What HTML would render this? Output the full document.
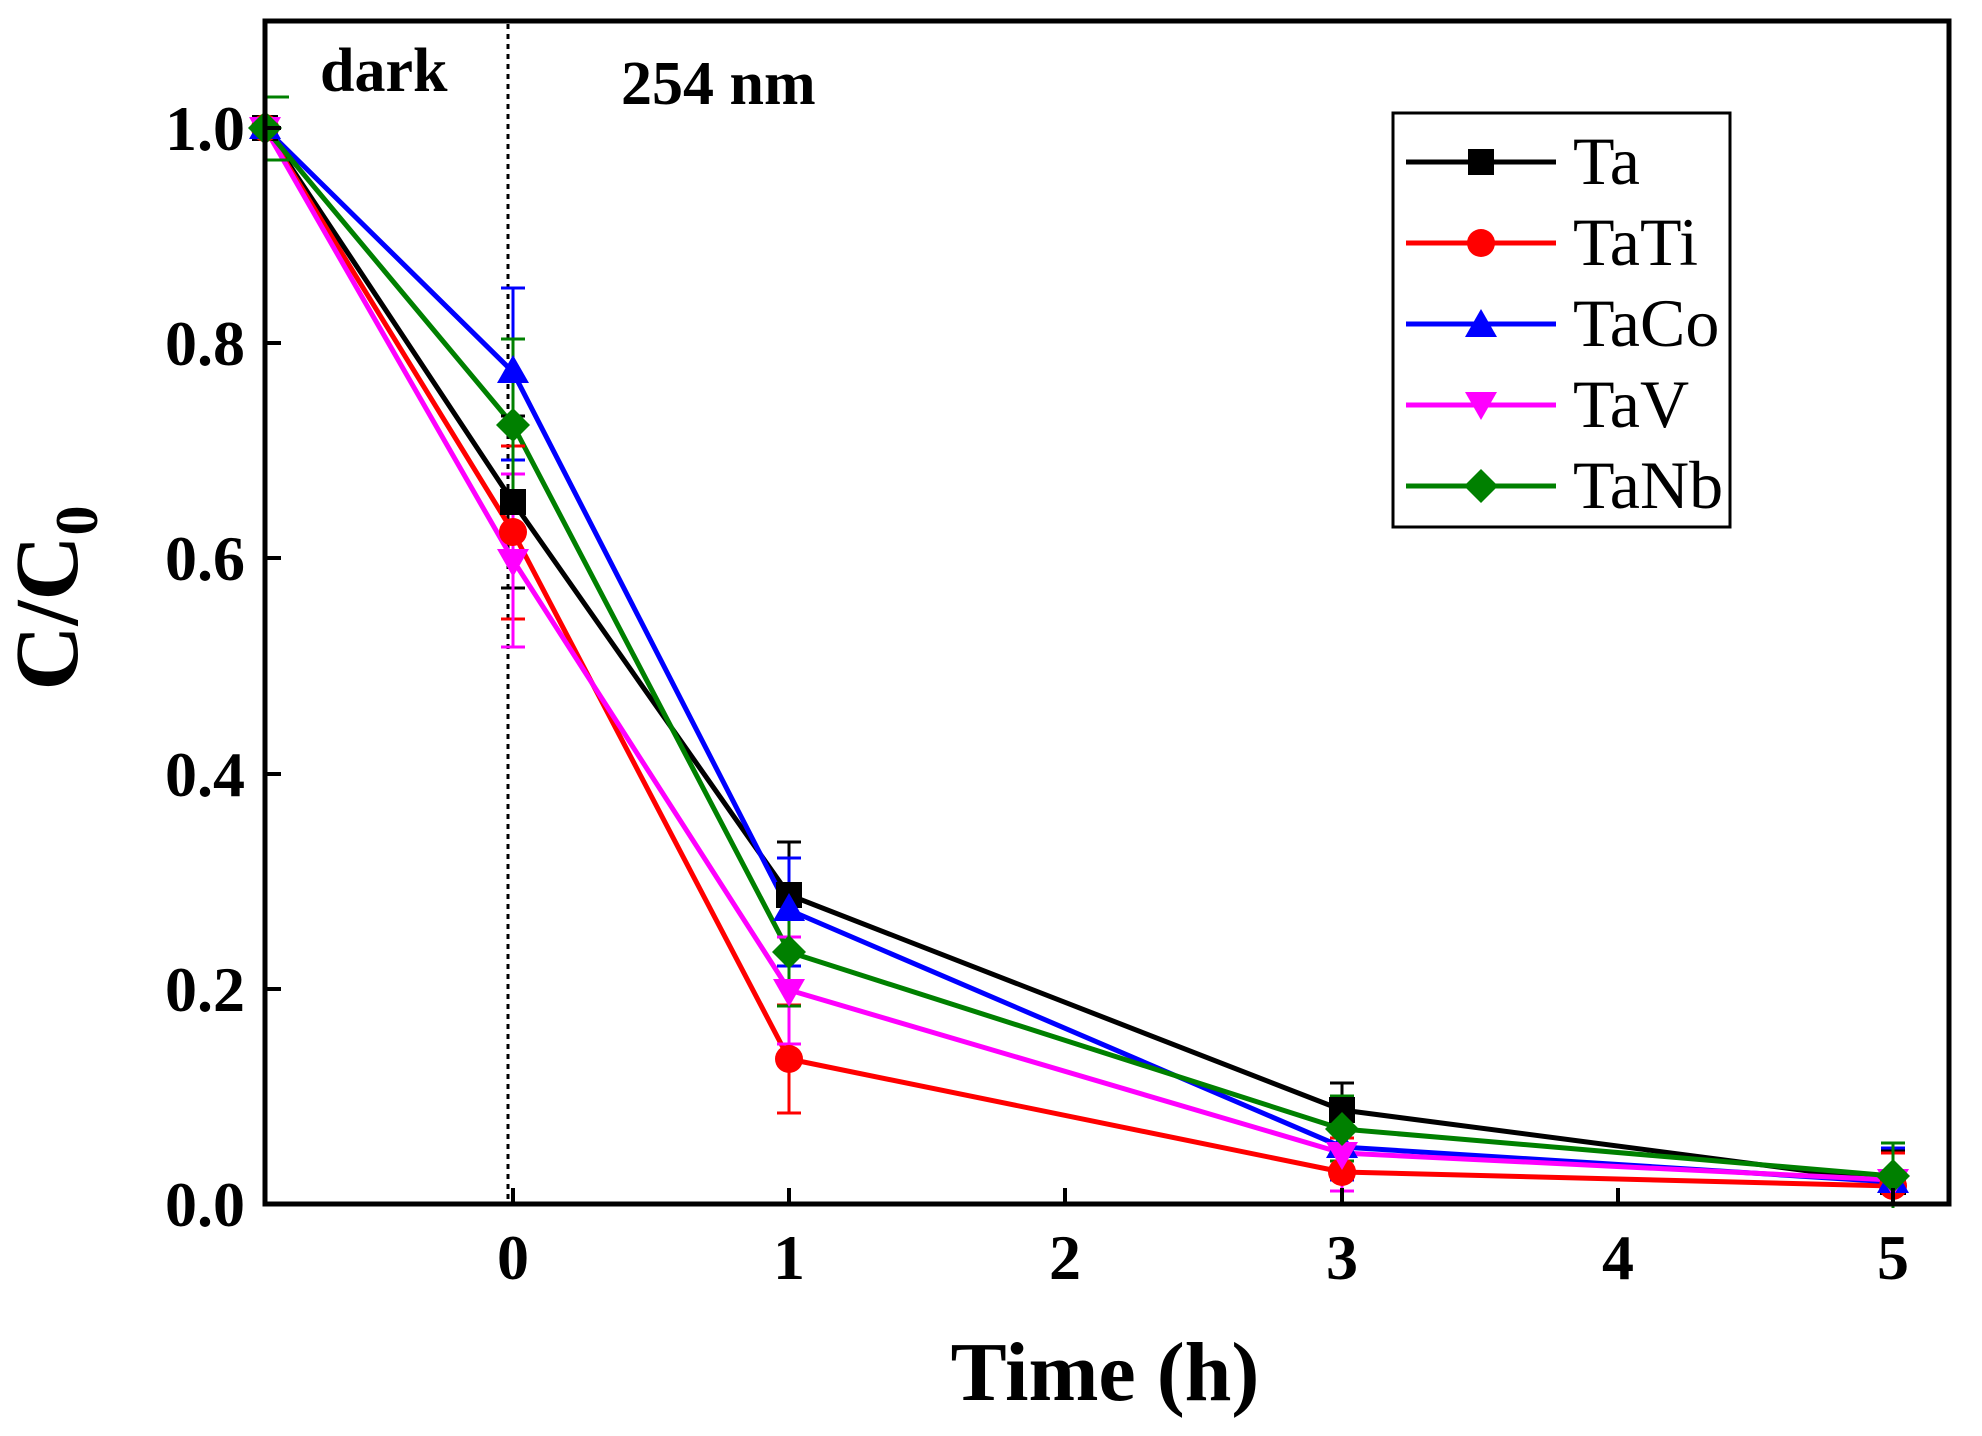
<!DOCTYPE html>
<html><head><meta charset="utf-8"><style>
html,body{margin:0;padding:0;background:#fff;}
svg{display:block;}
</style></head><body>
<svg width="1982" height="1436" viewBox="0 0 1982 1436" xmlns="http://www.w3.org/2000/svg" font-family="'Liberation Serif', serif">
<rect width="1982" height="1436" fill="#fff"/>
<line x1="508" y1="24" x2="508" y2="1202" stroke="#000" stroke-width="3" stroke-dasharray="5,5"/>

<g fill="none" stroke-width="5" stroke-linejoin="round">
<polyline stroke="#000" points="265,128 513,502 789,895 1342,1110 1893,1182"/>
<polyline stroke="#f00" points="265,128 513,532 789,1059 1342,1172 1893,1186"/>
<polyline stroke="#00f" points="265,128 513,372 789,910 1342,1147 1893,1182"/>
<polyline stroke="#f0f" points="265,128 513,560 789,990 1342,1153 1893,1180"/>
<polyline stroke="#008000" points="265,128 513,425 789,952 1342,1129 1893,1176"/>
</g>

<g stroke-width="3">
<g stroke="#000"><path d="M513,416V588M501,416h24M501,588h24 M789,842V949M777,842h24M777,949h24 M1342,1083V1138M1330,1083h24M1330,1138h24 M1893,1150V1204M1881,1150h24"/></g>
<g stroke="#f00"><path d="M513,446V619M501,446h24M501,619h24 M789,1005V1113M777,1005h24M777,1113h24 M1342,1138V1204M1330,1138h24M1330,1203h24 M1893,1153V1204M1881,1153h24"/></g>
<g stroke="#00f"><path d="M513,288V460M501,288h24M501,460h24 M789,858V966M777,858h24M777,966h24 M1342,1115V1180M1330,1115h24M1330,1180h24 M1893,1148V1204M1881,1148h24"/></g>
<g stroke="#f0f"><path d="M513,474V647M501,474h24M501,647h24 M789,937V1044M777,937h24M777,1044h24 M1342,1127V1191M1330,1127h24M1330,1191h24"/></g>
<g stroke="#008000"><path d="M265,97V160M265,97h24M265,160h24 M513,339V511M501,339h24M501,511h24 M789,898V1006M777,898h24M777,1006h24 M1342,1096V1161M1330,1096h24M1330,1161h24 M1893,1143V1208M1881,1143h24"/></g>
</g>

<defs>
<rect id="sq" x="-13" y="-13" width="26" height="26" fill="#000"/>
<circle id="ci" r="14" fill="#f00"/>
<path id="tu" d="M0,-17L16,11H-16Z" fill="#00f"/>
<path id="td" d="M0,17L16,-11H-16Z" fill="#f0f"/>
<path id="dm" d="M0,-17L17,0L0,17L-17,0Z" fill="#008000"/>
</defs>
<g>
<use href="#sq" x="265" y="128"/><use href="#sq" x="513" y="502"/><use href="#sq" x="789" y="895"/><use href="#sq" x="1342" y="1110"/><use href="#sq" x="1893" y="1182"/>
<use href="#ci" x="265" y="128"/><use href="#ci" x="513" y="532"/><use href="#ci" x="789" y="1059"/><use href="#ci" x="1342" y="1172"/><use href="#ci" x="1893" y="1186"/>
<use href="#tu" x="265" y="128"/><use href="#tu" x="513" y="372"/><use href="#tu" x="789" y="910"/><use href="#tu" x="1342" y="1147"/><use href="#tu" x="1893" y="1182"/>
<use href="#td" x="265" y="128"/><use href="#td" x="513" y="560"/><use href="#td" x="789" y="990"/><use href="#td" x="1342" y="1153"/><use href="#td" x="1893" y="1180"/>
<use href="#dm" x="265" y="128"/><use href="#dm" x="513" y="425"/><use href="#dm" x="789" y="952"/><use href="#dm" x="1342" y="1129"/><use href="#dm" x="1893" y="1176"/>
</g>

<rect x="265" y="21" width="1684" height="1183" fill="none" stroke="#000" stroke-width="5"/>
<g stroke="#000" stroke-width="4">
<path d="M513,1204v-16M789,1204v-16M1065,1204v-16M1342,1204v-16M1618,1204v-16M1893,1204v-16"/>
<path d="M265,1204h16M265,989h16M265,774h16M265,558h16M265,343h16M265,128h16"/>
</g>
<g font-weight="bold" font-size="64" text-anchor="end">
<text x="245" y="1226">0.0</text>
<text x="245" y="1011">0.2</text>
<text x="245" y="796">0.4</text>
<text x="245" y="580">0.6</text>
<text x="245" y="365">0.8</text>
<text x="245" y="150">1.0</text>
</g>
<g font-weight="bold" font-size="64" text-anchor="middle">
<text x="513" y="1279">0</text>
<text x="789" y="1279">1</text>
<text x="1065" y="1279">2</text>
<text x="1342" y="1279">3</text>
<text x="1618" y="1279">4</text>
<text x="1893" y="1279">5</text>
</g>
<text x="1105" y="1400" font-weight="bold" font-size="84" text-anchor="middle">Time (h)</text>
<g transform="translate(77,598) rotate(-90)">
<text x="0" y="0" font-weight="bold" font-size="90" text-anchor="middle">C/C<tspan font-size="60" dy="20">0</tspan></text>
</g>
<text x="320" y="91" font-weight="bold" font-size="62">dark</text>
<text x="621" y="104" font-weight="bold" font-size="62">254 nm</text>

<rect x="1393" y="113" width="337" height="414" fill="#fff" stroke="#000" stroke-width="3"/>
<g stroke-width="5">
<line x1="1406" y1="162" x2="1556" y2="162" stroke="#000"/>
<line x1="1406" y1="243" x2="1556" y2="243" stroke="#f00"/>
<line x1="1406" y1="324" x2="1556" y2="324" stroke="#00f"/>
<line x1="1406" y1="405" x2="1556" y2="405" stroke="#f0f"/>
<line x1="1406" y1="486" x2="1556" y2="486" stroke="#008000"/>
</g>
<use href="#sq" x="1481" y="162"/>
<use href="#ci" x="1481" y="243"/>
<use href="#tu" x="1481" y="326"/>
<use href="#td" x="1481" y="403"/>
<use href="#dm" x="1481" y="486"/>
<g font-size="68">
<text x="1573" y="184">Ta</text>
<text x="1573" y="265">TaTi</text>
<text x="1573" y="346">TaCo</text>
<text x="1573" y="427">TaV</text>
<text x="1573" y="508">TaNb</text>
</g>
</svg>
</body></html>
